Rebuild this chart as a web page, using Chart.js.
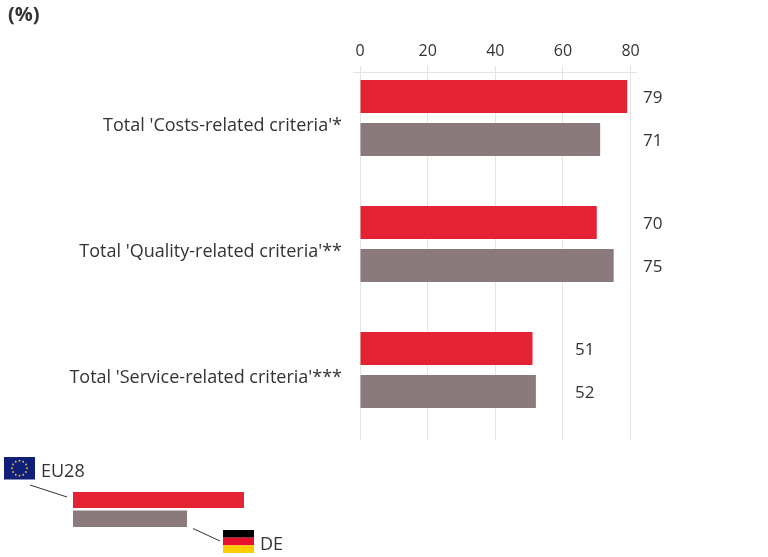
<!DOCTYPE html>
<html>
<head>
<meta charset="utf-8">
<style>
  html, body { margin: 0; background: #fff; }
  canvas { display: block; }
</style>
<script src="https://cdn.jsdelivr.net/npm/chart.js@4/dist/chart.umd.min.js"></script>
</head>
<body>
<canvas id="chart" width="768" height="557"></canvas>
<script>
const categories = [
  "Total 'Costs-related criteria'*",
  "Total 'Quality-related criteria'**",
  "Total 'Service-related criteria'***",
];
const eu28Values = [79, 70, 51];
const deValues = [71, 75, 52];
const xTicks = [0, 20, 40, 60, 80];
const unitLabel = "(%)";
const eu28Label = "EU28";
const deLabel = "DE";

const RED = "#e52233";
const GREY = "#8a7a7c";
const TEXT = "#333333";
const GRID = "#e4e4e4";
const FONT = '"Open Sans", sans-serif';

// the value labels sit in a fixed column per group, not at the bar end
const valueColumns = [643, 643, 575];

function drawEuFlag(ctx, x, y, w, h) {
  ctx.fillStyle = "#0f1f7a";
  ctx.fillRect(x, y, w, h);
  ctx.fillStyle = "#e3c52a";
  for (let i = 0; i < 12; i++) {
    const a = (i / 12) * Math.PI * 2;
    ctx.beginPath();
    ctx.arc(x + w / 2 + Math.cos(a) * 7.5, y + h / 2 + Math.sin(a) * 7.5, 0.9, 0, Math.PI * 2);
    ctx.fill();
  }
}

function drawDeFlag(ctx, x, y, w, h) {
  const band = h / 3;
  ["#000000", "#e8112d", "#ffcc00"].forEach((c, i) => {
    ctx.fillStyle = c;
    ctx.fillRect(x, y + i * band, w, band);
  });
}

function drawLine(ctx, x1, y1, x2, y2, color, width) {
  ctx.strokeStyle = color;
  ctx.lineWidth = width;
  ctx.beginPath();
  ctx.moveTo(x1, y1);
  ctx.lineTo(x2, y2);
  ctx.stroke();
}

const annotations = {
  id: "annotations",
  beforeDatasetsDraw(chart) {
    const ctx = chart.ctx;
    // short stub of the top rule left of the zero line
    drawLine(ctx, 353, chart.chartArea.top + 0.5, chart.chartArea.left, chart.chartArea.top + 0.5, GRID, 1);
  },
  afterDraw(chart) {
    const ctx = chart.ctx;
    ctx.save();
    ctx.textBaseline = "middle";
    ctx.textAlign = "left";
    ctx.fillStyle = TEXT;

    // value labels, taken from each drawn bar
    ctx.font = "17px " + FONT;
    chart.data.datasets.forEach((ds, d) => {
      const bars = chart.getDatasetMeta(d).data;
      ds.data.forEach((pt, i) => {
        ctx.fillText(String(pt.x), valueColumns[i], bars[i].y + 2);
      });
    });

    ctx.font = "bold 20px " + FONT;
    ctx.fillText(unitLabel, 8, 15);

    // key at the bottom left
    ctx.fillStyle = RED;
    ctx.fillRect(73, 492, 171, 16);
    ctx.fillStyle = GREY;
    ctx.fillRect(73, 510.5, 114, 16.5);
    drawLine(ctx, 30, 485, 67, 497, "#333", 1);
    drawLine(ctx, 193, 528.5, 220, 541, "#333", 1);
    drawEuFlag(ctx, 4, 457, 31, 22.5);
    drawDeFlag(ctx, 223, 530, 31, 23);
    ctx.fillStyle = TEXT;
    ctx.font = "18px " + FONT;
    ctx.fillText(eu28Label, 41, 471.5);
    ctx.fillText(deLabel, 260, 544.5);
    ctx.restore();
  },
};

new Chart(document.getElementById("chart"), {
  type: "bar",
  data: {
    datasets: [
      {
        label: eu28Label,
        data: categories.map((c, i) => ({ x: eu28Values[i], y: i })),
        backgroundColor: RED,
      },
      {
        label: deLabel,
        data: categories.map((c, i) => ({ x: deValues[i], y: i })),
        backgroundColor: GREY,
      },
    ],
  },
  options: {
    indexAxis: "y",
    responsive: false,
    animation: false,
    devicePixelRatio: 1,
    categoryPercentage: 0.683,
    barPercentage: 0.767,
    layout: { padding: { top: 0, right: 132, bottom: 117, left: 0 } },
    plugins: { legend: { display: false }, tooltip: { enabled: false } },
    scales: {
      x: {
        type: "linear",
        position: "top",
        min: 0,
        max: 81.6,
        afterFit: (scale) => { scale.height = 72; },
        afterBuildTicks: (scale) => { scale.ticks = xTicks.map((v) => ({ value: v })); },
        border: { display: true, color: GRID },
        grid: { color: GRID, tickLength: 6, tickColor: GRID },
        ticks: { color: TEXT, padding: 5, maxRotation: 0, font: { family: FONT, size: 16 } },
      },
      y: {
        type: "linear",
        reverse: true,
        offset: false,
        min: -0.365,
        max: 2.556,
        afterFit: (scale) => { scale.width = 360; },
        afterBuildTicks: (scale) => { scale.ticks = categories.map((c, i) => ({ value: i })); },
        border: { display: false },
        grid: { display: false, drawTicks: false, offset: false },
        ticks: {
          color: TEXT,
          padding: 18,
          labelOffset: 8,
          autoSkip: false,
          callback: (v) => categories[v],
          font: { family: FONT, size: 18 },
        },
      },
    },
  },
  plugins: [annotations],
});
</script>
</body>
</html>
